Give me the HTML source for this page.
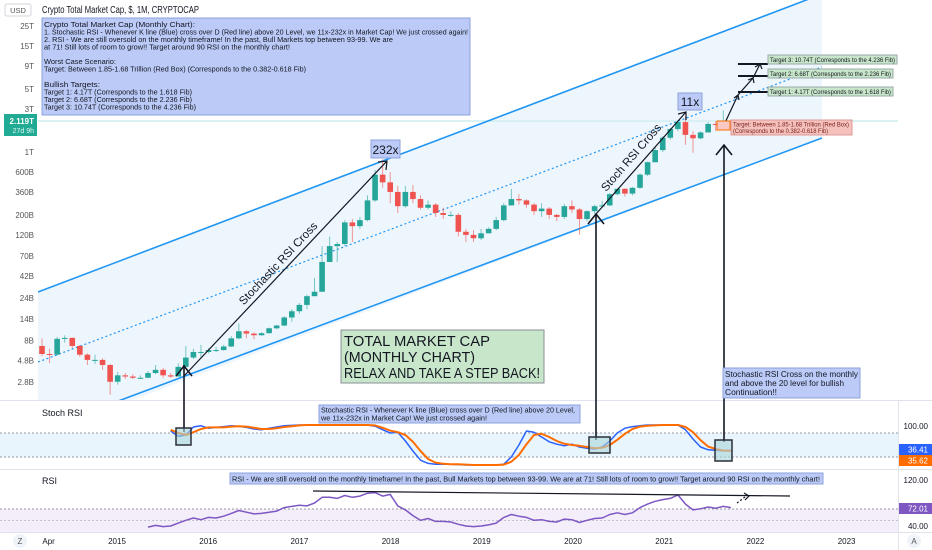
<!DOCTYPE html>
<html><head><meta charset="utf-8"><style>
html,body{margin:0;padding:0;background:#fff;width:932px;height:550px;overflow:hidden}
svg{display:block;font-family:"Liberation Sans",sans-serif}
</style></head><body>
<svg id="c" width="932" height="550" viewBox="0 0 932 550">
<defs>
<clipPath id="mainClip"><rect x="38" y="0" width="860" height="400"/></clipPath>
<clipPath id="stochClip"><rect x="0" y="401" width="898" height="68"/></clipPath>
<clipPath id="rsiClip"><rect x="0" y="471" width="898" height="61"/></clipPath>
</defs>
<g clip-path="url(#mainClip)">
<polygon points="38,292 822,-6 822,138 38,436" fill="#eef6fd"/>
<line x1="38" y1="121" x2="898" y2="121" stroke="#cdeef0" stroke-width="1.5"/>
<line x1="38" y1="292" x2="830" y2="-9" stroke="#2196f3" stroke-width="1.6"/>
<line x1="38" y1="362" x2="822" y2="67" stroke="#2196f3" stroke-width="1.2" stroke-dasharray="2,2.5"/>
<line x1="38" y1="431" x2="822" y2="138" stroke="#2196f3" stroke-width="1.6"/>
</g>
<g id="candles" clip-path="url(#mainClip)"></g>

<line x1="0" y1="400.5" x2="932" y2="400.5" stroke="#e0e3eb"/>
<line x1="0" y1="469.5" x2="932" y2="469.5" stroke="#e0e3eb"/>
<line x1="0" y1="532.5" x2="932" y2="532.5" stroke="#e0e3eb"/>
<line x1="898.5" y1="400" x2="898.5" y2="550" stroke="#e0e3eb"/>

<rect x="0" y="433" width="898" height="24" fill="#e3f2fd" opacity="0.8"/>
<line x1="0" y1="433" x2="898" y2="433" stroke="#9598a1" stroke-dasharray="2,2"/>
<line x1="0" y1="457" x2="898" y2="457" stroke="#9598a1" stroke-dasharray="2,2"/>
<text x="42" y="416" font-size="9" fill="#131722">Stoch RSI</text>
<g id="stoch" clip-path="url(#stochClip)"></g>
<text x="928" y="429" font-size="8" fill="#131722" text-anchor="end">100.00</text>
<rect x="899" y="444" width="33" height="11" fill="#2962ff"/>
<text x="928" y="452.5" font-size="8" fill="#fff" text-anchor="end">36.41</text>
<rect x="899" y="455" width="33" height="11" fill="#ff6d00"/>
<text x="928" y="463.5" font-size="8" fill="#fff" text-anchor="end">35.62</text>

<rect x="0" y="509" width="898" height="23" fill="#f3eefa"/>
<line x1="0" y1="509" x2="898" y2="509" stroke="#9598a1" stroke-dasharray="2,2"/>
<line x1="0" y1="520.5" x2="898" y2="520.5" stroke="#c0c3cb" stroke-dasharray="2,2"/>
<text x="42" y="484" font-size="9" fill="#131722">RSI</text>
<g id="rsi" clip-path="url(#rsiClip)"></g>
<text x="928" y="483" font-size="8" fill="#131722" text-anchor="end">120.00</text>
<rect x="899" y="503" width="33" height="11" fill="#7e57c2"/>
<text x="928" y="511.5" font-size="8" fill="#fff" text-anchor="end">72.01</text>
<text x="928" y="529" font-size="8" fill="#131722" text-anchor="end">40.00</text>

<g id="taxis" font-size="8" fill="#131722" text-anchor="middle"></g>
<circle cx="20" cy="541" r="7" fill="#f0f3fa"/>
<text x="20" y="544" font-size="8" fill="#555" text-anchor="middle">Z</text>
<circle cx="914" cy="541" r="7" fill="#f0f3fa"/>
<text x="914" y="544" font-size="8" fill="#555" text-anchor="middle">A</text>

<g id="paxis" font-size="8" fill="#555" text-anchor="end"></g>
<rect x="5" y="4" width="26" height="12" rx="2" fill="#fff" stroke="#d1d4dc"/>
<text x="18" y="13" font-size="7.5" fill="#555" text-anchor="middle">USD</text>
<rect x="4" y="114" width="33" height="22" fill="#22ab94"/>
<text x="34" y="124" font-size="8" fill="#fff" text-anchor="end" font-weight="bold">2.119T</text>
<text x="34" y="133" font-size="7" fill="#e0f5f1" text-anchor="end">27d 9h</text>

<text x="42" y="13" font-size="10" fill="#131722" textLength="157" lengthAdjust="spacingAndGlyphs">Crypto Total Market Cap, $, 1M, CRYPTOCAP</text>

<g font-size="7.6" fill="#131722">
<rect x="42" y="18" width="428" height="97" fill="#bbcaf6" stroke="#8ea3dc"/>
<text x="44" y="27" textLength="151" lengthAdjust="spacingAndGlyphs">Crypto Total Market Cap (Monthly Chart):</text>
<text x="44" y="34.5" textLength="424" lengthAdjust="spacingAndGlyphs">1. Stochastic RSI - Whenever K line (Blue) cross over D (Red line) above 20 Level, we 11x-232x in Market Cap! We just crossed again!</text>
<text x="44" y="42" textLength="349" lengthAdjust="spacingAndGlyphs">2. RSI - We are still oversold on the monthly timeframe! In the past, Bull Markets top between 93-99. We are</text>
<text x="44" y="49.5" textLength="246" lengthAdjust="spacingAndGlyphs">at 71! Still lots of room to grow!! Target around 90 RSI on the monthly chart!</text>
<text x="44" y="64" textLength="72" lengthAdjust="spacingAndGlyphs">Worst Case Scenario:</text>
<text x="44" y="71.5" textLength="262" lengthAdjust="spacingAndGlyphs">Target: Between 1.85-1.68 Trillion (Red Box) (Corresponds to the 0.382-0.618 Fib)</text>
<text x="44" y="87" textLength="56" lengthAdjust="spacingAndGlyphs">Bullish Targets:</text>
<text x="44" y="94.5" textLength="148" lengthAdjust="spacingAndGlyphs">Target 1: 4.17T (Corresponds to the 1.618 Fib)</text>
<text x="44" y="102" textLength="148" lengthAdjust="spacingAndGlyphs">Target 2: 6.68T (Corresponds to the 2.236 Fib)</text>
<text x="44" y="109.5" textLength="152" lengthAdjust="spacingAndGlyphs">Target 3: 10.74T (Corresponds to the 4.236 Fib)</text>
</g>

<g stroke="#131722" fill="none" stroke-width="1.2">
<line x1="184" y1="376" x2="387" y2="161"/>
<polyline points="378,162 387,161 386,170"/>
<line x1="596" y1="214" x2="686" y2="112"/>
<polyline points="678,114 686,112 686,120"/>
<line x1="184" y1="365" x2="184" y2="432" stroke-width="1.6"/>
<polyline points="176,376 184,366 192,376" stroke-width="1.6"/>
<line x1="596" y1="214" x2="596" y2="440" stroke-width="1.6"/>
<polyline points="588,224 596,214 604,224" stroke-width="1.6"/>
<line x1="724" y1="145" x2="724" y2="442" stroke-width="1.6"/>
<polyline points="716,155 724,145 732,155" stroke-width="1.6"/>
<polyline points="723,127 738,95 753,78 760,64"/>
<polyline points="734,98 738,95 739,100"/>
<polyline points="748,80 753,78 754,83"/>
<polyline points="755,67 760,64 762,69"/>
<line x1="738" y1="64" x2="768" y2="64" stroke-width="2"/>
<line x1="738" y1="76" x2="768" y2="76" stroke-width="2"/>
<line x1="738" y1="92" x2="768" y2="92" stroke-width="2"/>
<line x1="313" y1="491" x2="790" y2="496"/>
<polyline points="737,503 745,497" stroke-dasharray="2,2"/>
<polyline points="744,493 749,496 745,500"/>
</g>
<text transform="translate(281,266) rotate(-46.8)" font-size="11.5" fill="#131722" text-anchor="middle">Stochastic RSI Cross</text>
<text transform="translate(634,160) rotate(-49)" font-size="11.5" fill="#131722" text-anchor="middle">Stoch RSI Cross</text>
<g><rect x="371" y="140" width="29" height="18" fill="#bbcaf6" stroke="#8ea3dc"/><text x="385.5" y="154" font-size="12" fill="#131722" text-anchor="middle">232x</text></g>
<g><rect x="678" y="93" width="24" height="17" fill="#bbcaf6" stroke="#8ea3dc"/><text x="690" y="106" font-size="12" fill="#131722" text-anchor="middle">11x</text></g>
<g font-size="15" fill="#131722">
<rect x="341" y="330" width="203" height="53" fill="#c8e6c9" stroke="#8a8f97"/>
<text x="344" y="346" textLength="146" lengthAdjust="spacingAndGlyphs">TOTAL MARKET CAP</text>
<text x="344" y="362" textLength="131" lengthAdjust="spacingAndGlyphs">(MONTHLY CHART)</text>
<text x="344" y="378" textLength="196" lengthAdjust="spacingAndGlyphs">RELAX AND TAKE A STEP BACK!</text>
</g>
<g font-size="8" fill="#131722">
<rect x="723" y="368" width="137" height="30" fill="#bbcaf6" stroke="#8ea3dc"/>
<text x="725" y="377" textLength="133" lengthAdjust="spacingAndGlyphs">Stochastic RSI Cross on the monthly</text>
<text x="725" y="386" textLength="119" lengthAdjust="spacingAndGlyphs">and above the 20 level for bullish</text>
<text x="725" y="395" textLength="52" lengthAdjust="spacingAndGlyphs">Continuation!!</text>
</g>
<g font-size="6.3" fill="#131722">
<rect x="768" y="55" width="129" height="9" fill="#c8e6c9" stroke="#9aa"/><text x="770" y="62" textLength="125" lengthAdjust="spacingAndGlyphs">Target 3: 10.74T (Corresponds to the 4.236 Fib)</text>
<rect x="768" y="69" width="125" height="9" fill="#c8e6c9" stroke="#9aa"/><text x="770" y="76" textLength="121" lengthAdjust="spacingAndGlyphs">Target 2: 6.68T (Corresponds to the 2.236 Fib)</text>
<rect x="768" y="87" width="125" height="9" fill="#c8e6c9" stroke="#9aa"/><text x="770" y="94" textLength="121" lengthAdjust="spacingAndGlyphs">Target 1: 4.17T (Corresponds to the 1.618 Fib)</text>
<rect x="717" y="121" width="13" height="9" fill="#f8c9c4" stroke="#ff6d00"/>
<rect x="731" y="120" width="121" height="15" fill="#f5c1bc" stroke="#d99"/>
<text x="733" y="126.5" fill="#7a1f1a" textLength="116" lengthAdjust="spacingAndGlyphs">Target: Between 1.85-1.68 Trillion (Red Box)</text>
<text x="733" y="133" fill="#7a1f1a" textLength="95" lengthAdjust="spacingAndGlyphs">(Corresponds to the 0.382-0.618 Fib)</text>
</g>
<g fill="#a9d6d8" fill-opacity="0.6" stroke="#2a2e39" stroke-width="1.5">
<rect x="176" y="428" width="15" height="17"/>
<rect x="589" y="437" width="21" height="16"/>
<rect x="715" y="440" width="17" height="21"/>
</g>
<g font-size="7.6" fill="#131722">
<rect x="319" y="405" width="261" height="18" fill="#bbcaf6" stroke="#8ea3dc"/>
<text x="321" y="412.5" textLength="254" lengthAdjust="spacingAndGlyphs">Stochastic RSI - Whenever K line (Blue) cross over D (Red line) above 20 Level,</text>
<text x="321" y="420.5" textLength="166" lengthAdjust="spacingAndGlyphs">we 11x-232x in Market Cap! We just crossed again!</text>
</g>
<g font-size="7.6" fill="#131722">
<rect x="230" y="473" width="593" height="11" fill="#bbcaf6" stroke="#8ea3dc"/>
<text x="232" y="481.5" textLength="588" lengthAdjust="spacingAndGlyphs">RSI - We are still oversold on the monthly timeframe! In the past, Bull Markets top between 93-99. We are at 71! Still lots of room to grow!! Target around 90 RSI on the monthly chart!</text>
</g>
</svg>
<script>
const firstOpen = 7.0;
const closes = [5.7,5.6,8.4,8.6,7.0,5.6,4.9,4.9,4.3,
 2.8,3.3,3.2,3.1,3.1,3.5,3.8,3.3,3.2,4.1,5.2,6.0,
 6.0,6.3,6.3,6.9,8.5,10.2,9.6,9.2,9.7,11.0,11.8,14.5,
 17,20,25,28,60,90,95,165,150,175,290,560,
 460,360,250,360,300,240,260,210,200,200,130,120,
 110,125,140,175,255,300,290,260,220,235,200,190,
 250,230,180,220,250,255,340,390,345,400,560,770,
 1050,1440,1800,2150,1550,1420,1650,2050,2000,2150,2119];
const highs = [8.5,6.5,8.8,9.2,8.7,7.2,5.8,5.6,5.1,
 4.4,3.6,3.5,3.4,3.3,3.7,4.3,4.0,3.5,4.5,7.0,6.5,
 7.2,6.6,6.8,7.2,9.0,12.5,10.5,9.9,9.9,11.2,12.0,15.0,
 18,21,26,40,90,115,100,175,180,190,330,630,
 830,600,420,420,430,330,290,270,240,220,210,140,
 135,140,145,190,270,390,340,300,270,270,245,205,
 265,290,240,225,260,285,350,395,395,410,580,785,
 1130,1500,1850,2250,2450,1700,1700,2150,2200,2900,2250];
const lows = [5.4,4.5,5.5,7.6,6.6,5.3,4.3,4.4,3.8,
 2.0,2.6,3.0,3.0,3.0,3.1,3.4,3.1,3.1,3.2,4.0,5.0,
 5.2,5.8,6.0,6.2,6.8,8.3,8.5,8.3,9.1,9.6,10.7,11.6,
 13,16,18,25,28,60,60,90,100,140,170,280,
 400,270,210,240,270,230,230,190,180,190,115,100,
 100,105,125,135,170,255,260,240,200,190,180,170,
 180,210,120,170,205,240,250,330,320,330,390,540,
 770,1000,1370,1700,1200,980,1380,1650,1700,1900,1960];
const stochStart = 17;
const stochK = [85,72,75,95,
 98,92,94,96,98,97,94,90,88,92,95,98,
 99,100,100,100,100,100,100,100,100,100,100,97,
 88,80,82,60,35,12,4,2,2,2,1,0,
 0,0,0,0,2,20,50,85,82,70,58,52,
 48,52,45,42,40,45,60,80,92,96,98,100,
 100,100,100,100,88,65,45,38,37,36,36.41];
const stochD = [88,80,75,82,
 90,94,94,94,96,97,96,93,90,90,92,95,
 97,99,100,100,100,100,100,100,100,100,100,99,
 93,86,82,75,58,35,15,6,3,2,2,1,
 0,0,0,0,1,8,25,52,75,78,70,60,
 53,50,48,45,42,43,50,63,78,90,96,98,
 99,100,100,100,95,82,62,46,40,36,35.62];
const rsiStart = 14;
const rsiVals = [38,41,39,40,45,50,54,
 51,55,54,57,62,67,64,61,62,64,66,72,
 74,76,75,80,90,90,88,93,90,92,97,98,
 92,95,75,68,58,50,53,48,48,47,43,40,
 39,40,42,45,55,60,57,55,50,51,48,47,
 52,51,46,50,53,54,60,63,60,63,72,78,
 83,86,88,94,78,68,70,73,71,74,72];
const priceTicks = [25000,15000,9000,5000,3000,1000,600,360,200,120,70,42,24,14,8,4.8,2.8];
const priceTickLabels = ["25T","15T","9T","5T","3T","1T","600B","360B","200B","120B","70B","42B","24B","14B","8B","4.8B","2.8B"];
const timeLabels = ["Apr","2015","2016","2017","2018","2019","2020","2021","2022","2023"];
const timeMonths = [-9,0,12,24,36,48,60,72,84,96];

const NS = "http://www.w3.org/2000/svg";
const xOf = i => 42 + 7.57 * i;
const xMonth = m => 117 + 7.6 * m;
const yP = v => 152 - 90 * Math.log10(v / 1000);
const yS = v => 465 - 0.4 * v;
const yR = v => 549 - 0.575 * v;
function mk(tag, attrs, parent) {
  const e = document.createElementNS(NS, tag);
  for (const k in attrs) e.setAttribute(k, attrs[k]);
  parent.appendChild(e);
  return e;
}
const cg = document.getElementById('candles');
closes.forEach((c, i) => {
  const o = i === 0 ? firstOpen : closes[i - 1];
  const col = c >= o ? '#26a69a' : '#ef5350';
  const x = xOf(i);
  const w = mk('line', {x1: x, x2: x, y1: yP(highs[i]), y2: yP(lows[i]), stroke: col, 'stroke-width': 1, opacity: 0.6}, cg);
  
  
  const top = yP(Math.max(o, c)), bot = yP(Math.min(o, c));
  const b = mk('rect', {x: x - 2.8, y: top, width: 5.6, height: Math.max(1, bot - top), fill: col}, cg);
  
  
});
const sg = document.getElementById('stoch');
function poly(vals, start, yf, color, w, parent, name) {
  const pts = vals.map((v, j) => xOf(start + j).toFixed(1) + ',' + yf(v).toFixed(1)).join(' ');
  const p = mk('polyline', {points: pts, fill: 'none', stroke: color, 'stroke-width': w, 'stroke-linejoin': 'round'}, parent);
  
  
}
poly(stochK, stochStart, yS, '#2962ff', 1.5, sg, 'stoch-k-line');
poly(stochD, stochStart, yS, '#ff6d00', 2, sg, 'stoch-d-line');
poly(rsiVals, rsiStart, yR, '#7e57c2', 1.5, document.getElementById('rsi'), 'rsi-line');
const pa = document.getElementById('paxis');
priceTicks.forEach((v, i) => {
  const t = mk('text', {x: 34, y: yP(v) + 3}, pa);
  t.textContent = priceTickLabels[i];
  
  
});
const ta = document.getElementById('taxis');
timeLabels.forEach((l, i) => {
  const t = mk('text', {x: xMonth(timeMonths[i]), y: 544}, ta);
  t.textContent = l;
  
  
});
</script>
</body></html>
